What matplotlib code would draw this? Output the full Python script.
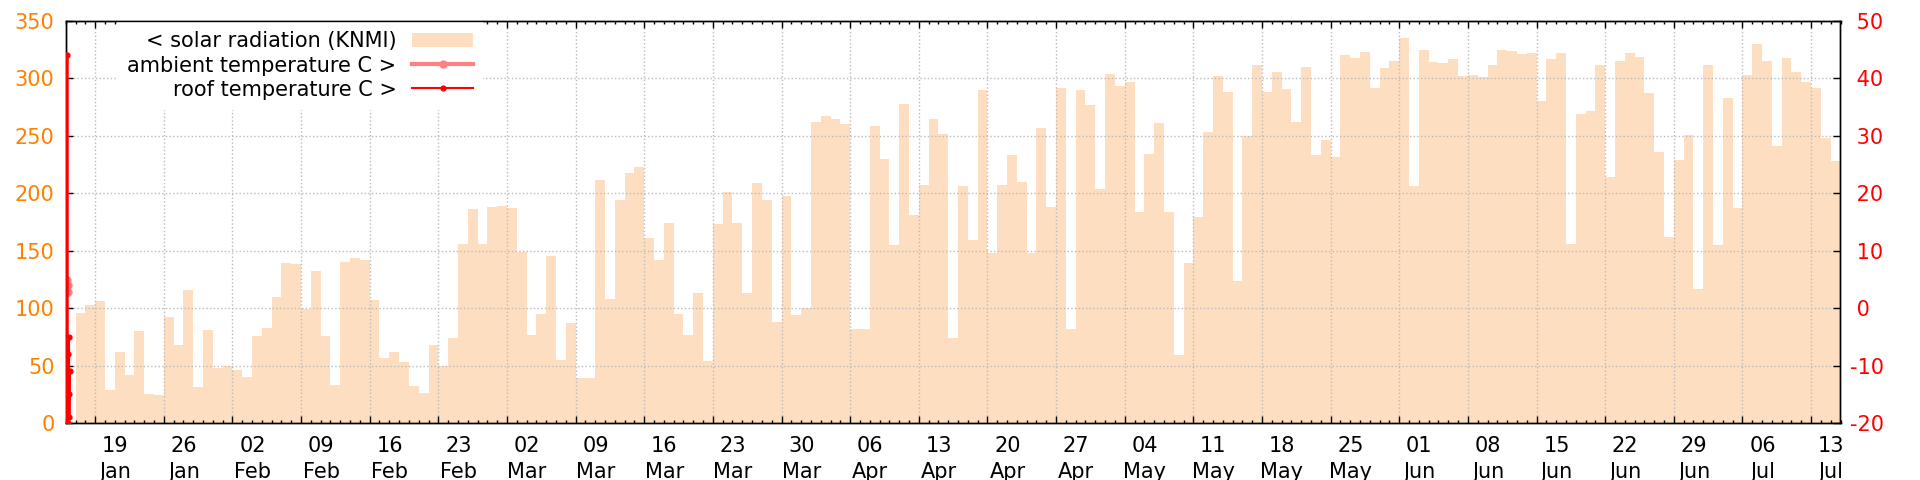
import datetime as dt

import matplotlib
matplotlib.use('Agg')
import matplotlib.pyplot as plt
import matplotlib.dates as mdates
import matplotlib.transforms as mtransforms
from matplotlib.patches import Patch
from matplotlib.ticker import MultipleLocator, FormatStrFormatter

plt.rcParams['axes.unicode_minus'] = False

# daily solar radiation (KNMI), one value per day starting 17 Jan
solar_start = dt.datetime(2015, 1, 17)
solar = [96, 103, 106, 29, 62, 42, 80, 25, 24, 92, 68, 116, 31, 81, 48, 50, 46, 40,
         76, 83, 110, 139, 138, 99, 132, 76, 33, 140, 144, 142, 107, 57, 62, 53, 32, 26,
         68, 50, 74, 156, 186, 156, 188, 189, 187, 149, 77, 95, 145, 55, 87, 39, 39, 212,
         108, 194, 218, 223, 161, 142, 174, 95, 77, 113, 54, 173, 201, 174, 113, 209, 194, 88,
         198, 94, 100, 262, 267, 265, 260, 82, 82, 259, 230, 155, 278, 181, 207, 265, 252, 74,
         206, 159, 290, 148, 207, 233, 210, 148, 257, 188, 292, 82, 290, 277, 204, 304, 293,
         297, 184,
         234, 261, 184, 59, 139, 179, 253, 302, 288, 124, 250, 312, 288, 306, 291, 262, 310,
         233, 246, 232, 320, 318, 323, 292, 309, 315, 335, 206, 325, 314, 313, 317, 302, 303,
         301, 312, 325,
         324, 321, 322, 280, 317, 322, 156, 269, 272, 312, 214, 315, 322, 319, 287, 236, 162,
         229, 251, 117, 312, 155, 283, 187, 303, 330, 315, 241, 318, 306, 297, 292, 248, 228]

# temperature samples, hours after 16 Jan 00:00 (only the first few hours logged)
ambient_hours = [0, 1.5, 3, 4.5, 6]
ambient_temp = [4.6, 3.2, 4.9, 2.8, 4.0]
roof_hours = [0, 1, 2, 3, 4, 5, 6, 7, 8, 9, 10]
roof_temp = [-18, -12, -16, -20, 44, -20, -8, -15, -5, -19, -11]

x_start = dt.datetime(2015, 1, 16)
x_end = dt.datetime(2015, 7, 16)

PEACH = '#fedec0'
ORANGE = '#ff8000'
RED = '#ff0000'
PINK = '#ff8080'
FS = 15

# step edges for the daily fill
edges = [solar_start + dt.timedelta(days=i) for i in range(len(solar) + 1)]
solar_y = solar + [solar[-1]]
amb_t = [x_start + dt.timedelta(hours=h) for h in ambient_hours]
roof_t = [x_start + dt.timedelta(hours=h) for h in roof_hours]

fig = plt.figure(figsize=(19.2, 4.8), dpi=100)
ax = fig.add_axes([65.7 / 1920, 57 / 480, 1774.8 / 1920, 402 / 480])
ax2 = ax.twinx()

ax.fill_between(mdates.date2num(edges), solar_y, step='post', color=PEACH, lw=0, zorder=1)

l_amb, = ax2.plot(amb_t, ambient_temp, color=PINK, lw=3, marker='o', ms=5, zorder=3,
                  label='ambient temperature C >')
l_roof, = ax2.plot(roof_t, roof_temp, color=RED, lw=1.5, marker='o', ms=3.5, zorder=4,
                   label='roof temperature C >')

ax.set_xlim(mdates.date2num(x_start), mdates.date2num(x_end))
ax.set_ylim(0, 350)
ax2.set_ylim(-20, 50)
ax.yaxis.set_major_locator(MultipleLocator(50))
ax2.yaxis.set_major_locator(MultipleLocator(10))
ax2.yaxis.set_major_formatter(FormatStrFormatter('% d'))
ax.xaxis.set_major_locator(mdates.WeekdayLocator(byweekday=mdates.MO))
ax.xaxis.set_minor_locator(mdates.DayLocator())
ax.xaxis.set_major_formatter(mdates.DateFormatter('%d\n%b'))

ax.tick_params(axis='x', which='both', direction='in', top=True, bottom=True,
               labelsize=FS, pad=9, width=1)
ax.tick_params(axis='x', which='major', length=4.7)
ax.tick_params(axis='x', which='minor', length=2.4)
ax.tick_params(axis='y', direction='in', length=4.7, width=1, labelsize=FS,
               labelcolor=ORANGE, pad=8)
ax2.tick_params(axis='y', direction='in', length=4.7, width=1, labelsize=FS,
                labelcolor=RED, pad=6.8)

ax.grid(True, which='major', linestyle=':', color='#bbbbbb', lw=1.0)

for a in (ax, ax2):
    for sp in a.spines.values():
        sp.set_linewidth(1.0)

# date labels sit a little to the right of their tick
shift = mtransforms.ScaledTranslation(0.2, 0, fig.dpi_scale_trans)
for lab in ax.get_xticklabels():
    lab.set_transform(lab.get_transform() + shift)
    lab.set_linespacing(1.4)

h_solar = Patch(facecolor=PEACH, edgecolor='none', label='< solar radiation (KNMI)')
leg = ax2.legend(handles=[h_solar, l_amb, l_roof], loc='upper right',
                 bbox_to_anchor=(0.2353, 1.0), borderaxespad=0, borderpad=0.5,
                 markerfirst=False, handlelength=2.9, handletextpad=0.77,
                 labelspacing=0.2, fontsize=FS, fancybox=False, framealpha=1,
                 facecolor='white', edgecolor='none')
leg.set_zorder(2)

fig.savefig('out.png', dpi=100)
